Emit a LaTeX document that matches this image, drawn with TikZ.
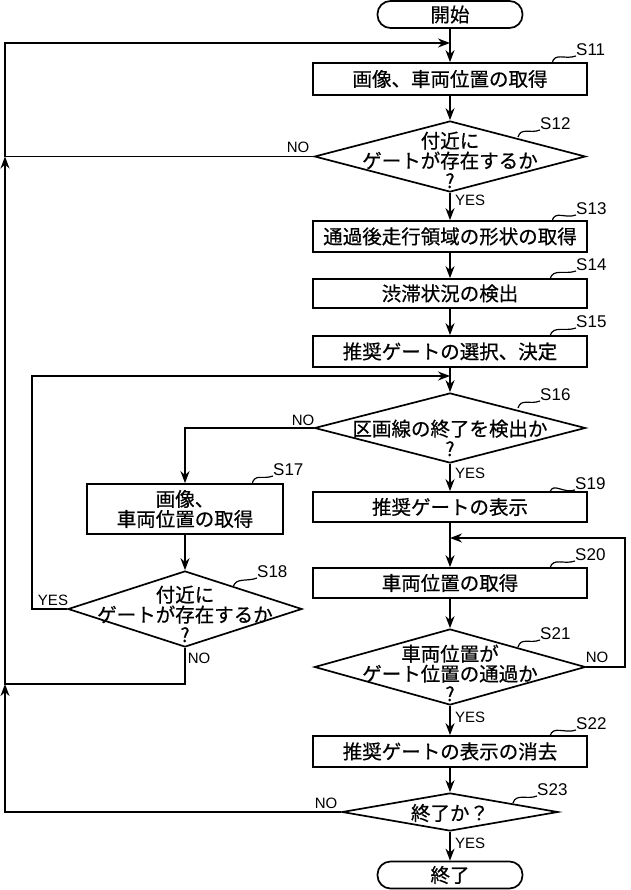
\documentclass[tikz,border=0pt]{standalone}
\usepackage{fontspec}
\setmainfont{Liberation Sans}
\newfontfamily\jp[FakeBold=0.6]{Noto Sans CJK JP}
\usetikzlibrary{arrows.meta,shapes.geometric}
\begin{document}
\begin{tikzpicture}[x=1pt,y=-1pt,
 every node/.style={inner sep=0pt},
 ln/.style={line width=1.7pt},
 arr/.style={ln,-{Stealth[length=12pt,width=9pt]}},
 jpf/.style={font=\jp\fontsize{19.5}{20}\selectfont},
 box/.style={draw,ln,rectangle,minimum width=274pt,jpf,align=center},
 term/.style={draw,ln,rectangle,rounded corners=13pt,minimum width=145pt,minimum height=27pt,jpf},
 dia/.style={draw,ln,diamond},
 dtxt/.style={jpf,align=center},
 lbl/.style={font=\fontsize{17}{17}\selectfont},
 yn/.style={font=\fontsize{15}{15}\selectfont},
 lead/.style={line width=1.2pt}]
\useasboundingbox (0,0) rectangle (630,890);

% nodes
\node[term] (start) at (450,14.5) {開始};
\node[box,minimum height=32pt] (s11) at (450,79) {画像、車両位置の取得};
\node[dia,minimum width=271pt,minimum height=71pt] (s12) at (450,156.5) {};
\node[dtxt] (t12) at (450,160) {付近に\\ゲートが存在するか\\?};
\node[box,minimum height=31pt] (s13) at (450,236.5) {通過後走行領域の形状の取得};
\node[box,minimum height=29pt] (s14) at (450,293.5) {渋滞状況の検出};
\node[box,minimum height=31pt] (s15) at (450,351.5) {推奨ゲートの選択、決定};
\node[dia,minimum width=271pt,minimum height=70pt] (s16) at (450,428) {};
\node[dtxt] (t16) at (450,438) {区画線の終了を検出か\\?};
\node[box,minimum width=196pt,minimum height=50pt] (s17) at (185,509) {画像、\\車両位置の取得};
\node[dia,minimum width=234pt,minimum height=76pt] (s18) at (185,609) {};
\node[dtxt] (t18) at (185,614) {付近に\\ゲートが存在するか\\?};
\node[box,minimum height=30pt] (s19) at (450,507) {推奨ゲートの表示};
\node[box,minimum height=30pt] (s20) at (450,583) {車両位置の取得};
\node[dia,minimum width=271pt,minimum height=76pt] (s21) at (450,667) {};
\node[dtxt] (t21) at (450,673) {車両位置が\\ゲート位置の通過か\\?};
\node[box,minimum height=31pt] (s22) at (450,751.5) {推奨ゲートの表示の消去};
\node[dia,minimum width=216pt,minimum height=38pt] (s23) at (450,812) {};
\node[dtxt] (t23) at (450,813) {終了か？};
\node[term] (stop) at (450,875) {終了};

% junction coordinates
\coordinate (L1) at (5,43);
\coordinate (L2) at (5,156.5);
\coordinate (L3) at (5,684);
\coordinate (L4) at (5,812);
\coordinate (j1) at (450,43);
\coordinate (j2) at (450,376);
\coordinate (j3) at (450,538);
\coordinate (b18) at (185,684);
\coordinate (c18) at (32,376);
\coordinate (r21) at (625,538);

% connectors
\draw[arr] (start) -- (s11);
\draw[arr] (s11) -- (s12.north);
\draw[arr] (s12.south) -- (s13);
\draw[arr] (s13) -- (s14);
\draw[arr] (s14) -- (s15);
\draw[arr] (s15) -- (s16.north);
\draw[arr] (s16.south) -- (s19);
\draw[arr] (s19) -- (s20);
\draw[arr] (s20) -- (s21.north);
\draw[arr] (s21.south) -- (s22);
\draw[arr] (s22) -- (s23.north);
\draw[arr] (s23.south) -- (stop);
\draw[arr] (s16.west) -| (s17.north);
\draw[arr] (s17) -- (s18.north);
\draw[arr] (s12.west) -- (L2) -- (L1) -- (j1);
\draw[arr] (s23.west) -- (L4) -- (L3);
\draw[arr] (s18.south) -- (b18) -- (L3) -- (L2);
\draw[arr] (s18.west) -| (c18) -- (j2);
\draw[arr] (s21.east) -| (r21) -- (j3);

% YES / NO labels
\node[yn] (n12) at (298,147) {NO};
\node[yn,anchor=west] (y12) at (455,200) {YES};
\node[yn] (n16) at (303,420) {NO};
\node[yn,anchor=west] (y16) at (455,473) {YES};
\node[yn] (y18) at (53,600) {YES};
\node[yn] (n18) at (199,658) {NO};
\node[yn] (n21) at (597,657) {NO};
\node[yn,anchor=west] (y21) at (455,717) {YES};
\node[yn] (n23) at (326,803) {NO};
\node[yn,anchor=west] (y23) at (455,843) {YES};

% step labels
\node[lbl,anchor=south west] (l11) at (576,56) {S11};
\node[lbl,anchor=south west] (l12) at (540,130) {S12};
\node[lbl,anchor=south west] (l13) at (576,215) {S13};
\node[lbl,anchor=south west] (l14) at (576,271) {S14};
\node[lbl,anchor=south west] (l15) at (576,328) {S15};
\node[lbl,anchor=south west] (l16) at (540,401) {S16};
\node[lbl,anchor=south west] (l17) at (273,476) {S17};
\node[lbl,anchor=south west] (l18) at (257,578) {S18};
\node[lbl,anchor=south west] (l19) at (575,490) {S19};
\node[lbl,anchor=south west] (l20) at (575,561) {S20};
\node[lbl,anchor=south west] (l21) at (540,640) {S21};
\node[lbl,anchor=south west] (l22) at (576,730) {S22};
\node[lbl,anchor=south west] (l23) at (537,796) {S23};

% leader squiggles
\draw[lead] (552,63) .. controls +(3,-11) and +(-11,4) .. (l11.south west);
\draw[lead] (518,137) .. controls +(3,-10) and +(-10,4) .. (l12.south west);
\draw[lead] (552,221) .. controls +(3,-11) and +(-11,4) .. (l13.south west);
\draw[lead] (550,279) .. controls +(3,-11) and +(-11,4) .. (l14.south west);
\draw[lead] (550,336) .. controls +(3,-11) and +(-11,4) .. (l15.south west);
\draw[lead] (518,408) .. controls +(3,-10) and +(-10,4) .. (l16.south west);
\draw[lead] (252,484) .. controls +(3,-11) and +(-11,4) .. (l17.south west);
\draw[lead] (233,587) .. controls +(3,-10) and +(-10,4) .. (l18.south west);
\draw[lead] (550,492) .. controls +(3,-10) and +(-11,4) .. (l19.south west);
\draw[lead] (550,568) .. controls +(3,-11) and +(-11,4) .. (l20.south west);
\draw[lead] (518,647) .. controls +(3,-10) and +(-10,4) .. (l21.south west);
\draw[lead] (550,736) .. controls +(3,-11) and +(-11,4) .. (l22.south west);
\draw[lead] (513,803) .. controls +(3,-10) and +(-10,4) .. (l23.south west);
\end{tikzpicture}
\end{document}
